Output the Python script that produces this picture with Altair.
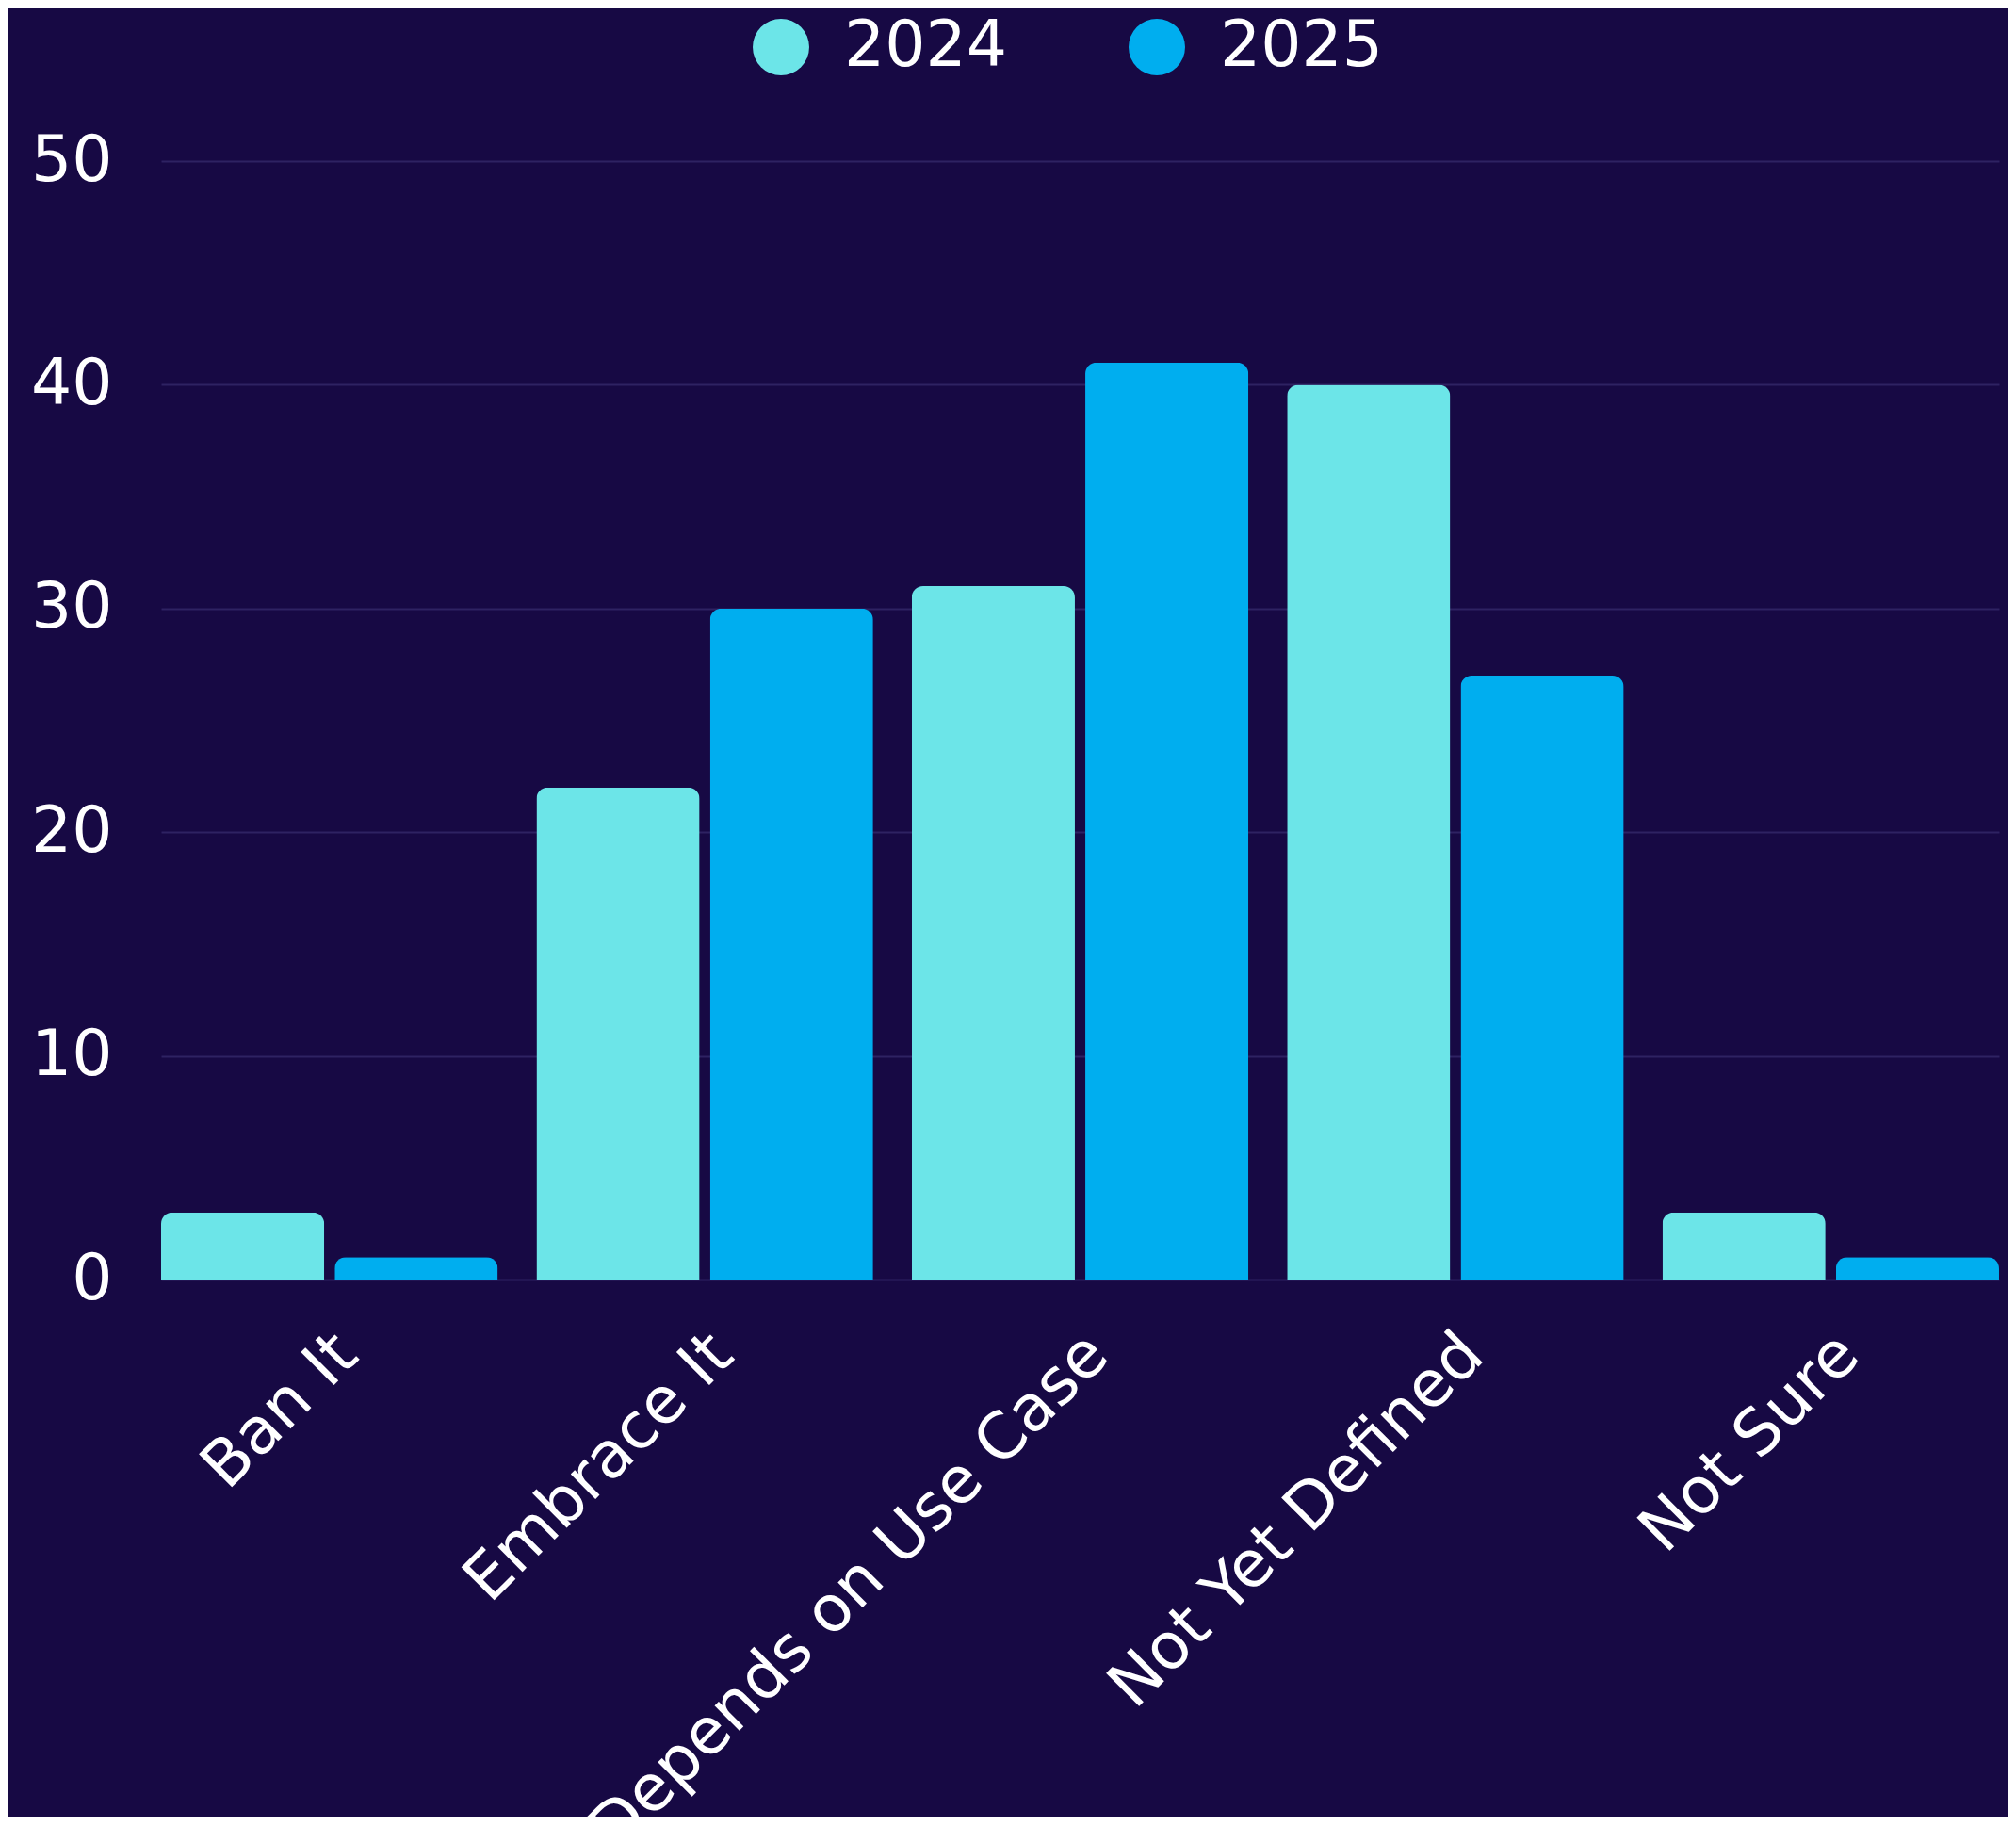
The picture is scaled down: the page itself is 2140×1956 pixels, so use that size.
import altair as alt
import pandas as pd

categories = ["Ban It", "Embrace It", "Depends on Use Case", "Not Yet Defined", "Not Sure"]
years = ["2024", "2025"]
values_2024 = [3, 22, 31, 40, 3]
values_2025 = [1, 30, 41, 27, 1]
colors = ["#6CE5E8", "#00AEEF"]

rows = []
for c, v in zip(categories, values_2024):
    rows.append({"category": c, "year": "2024", "value": v})
for c, v in zip(categories, values_2025):
    rows.append({"category": c, "year": "2025", "value": v})
df = pd.DataFrame(rows)

FONT = "DejaVu Sans"
BG = "#170944"
FS = 68

chart = alt.Chart(df).mark_bar(cornerRadiusTopLeft=12, cornerRadiusTopRight=12).encode(
    x=alt.X("category:N", sort=categories, title=None,
            scale=alt.Scale(paddingInner=0.103, paddingOuter=0),
            axis=alt.Axis(labelAngle=-45, labelFontSize=FS, labelColor="#ffffff", labelFont=FONT,
                          ticks=False, domain=False, grid=False, labelPadding=45, labelOffset=-5,
                          labelLimit=1000)),
    xOffset=alt.XOffset("year:N", sort=years, scale=alt.Scale(paddingInner=0.06, paddingOuter=0)),
    y=alt.Y("value:Q", title=None,
            scale=alt.Scale(domain=[0, 50], nice=False),
            axis=alt.Axis(values=[0, 10, 20, 30, 40, 50], labelFontSize=FS, labelColor="#ffffff",
                          labelFont=FONT, ticks=False, domain=False, labelPadding=52,
                          gridColor="#2E2262", gridWidth=2)),
    color=alt.Color("year:N", sort=years, scale=alt.Scale(domain=years, range=colors),
                    legend=alt.Legend(title=None, orient="none", direction="horizontal",
                                      legendX=624, legendY=-155,
                                      symbolType="circle", symbolSize=3600, symbolStrokeWidth=0,
                                      labelFontSize=FS, labelColor="#ffffff", labelFont=FONT,
                                      labelOffset=33, columnPadding=124, labelLimit=600)),
).properties(
    width=1951, height=1187,
    background=BG,
    padding={"left": 163, "top": 163, "right": 10, "bottom": 570},
    autosize=alt.AutoSizeParams(type="none"),
).configure_view(stroke=None)

chart.save("out.html", embed_options={"renderer": "svg", "actions": False})
